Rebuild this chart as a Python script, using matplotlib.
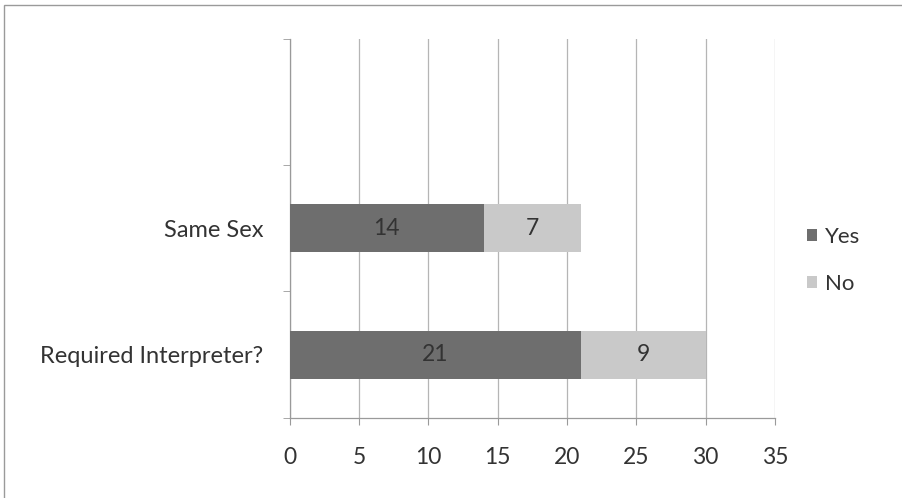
import matplotlib
matplotlib.use("Agg")
import matplotlib.pyplot as plt
from matplotlib.patches import Rectangle

# survey answers, bottom category first; top slot is left empty
categories = ["Required Interpreter?", "Same Sex", ""]
yes_vals = [21, 14, 0]
no_vals = [9, 7, 0]
x_ticks = [0, 5, 10, 15, 20, 25, 30, 35]

plt.rcParams["font.family"] = ["Lato", "DejaVu Sans"]

fig = plt.figure(figsize=(9.03, 4.98), dpi=100)
ax = fig.add_axes([0.321, 0.161, 0.537, 0.761])

# outer chart border
fig.patches.append(Rectangle((0.004, -0.05), 1.2, 1.04, transform=fig.transFigure,
                             fill=False, edgecolor="#9a9a9a", linewidth=1.0))

ypos = list(range(len(categories)))
yes_color = "#6e6e6e"
no_color = "#c9c9c9"

b1 = ax.barh(ypos, yes_vals, height=0.38, color=yes_color, label="Yes", zorder=3)
b2 = ax.barh(ypos, no_vals, left=yes_vals, height=0.38, color=no_color, label="No", zorder=3)

for bars, vals in ((b1, yes_vals), (b2, no_vals)):
    for bar, v in zip(bars, vals):
        if v:
            ax.text(bar.get_x() + bar.get_width() / 2, bar.get_y() + bar.get_height() / 2,
                    str(v), ha="center", va="center", fontsize=16.5, color="#333333", zorder=4)

ax.set_xlim(0, 35)
ax.set_ylim(-0.5, 2.5)
ax.set_xticks(x_ticks)
ax.tick_params(axis="x", length=5, color="#9a9a9a", labelsize=16.5, labelcolor="#333333", pad=16)
ax.grid(axis="x", color="#b5b5b5", linewidth=0.9, zorder=0)

ax.set_yticks(ypos[:2])
ax.set_yticklabels(categories[:2])
ax.tick_params(axis="y", length=0, labelsize=17, labelcolor="#333333", pad=19)
ax.set_yticks([-0.5, 0.5, 1.5, 2.5], minor=True)
ax.tick_params(axis="y", which="minor", length=5, color="#9a9a9a")

for s in ("top", "right"):
    ax.spines[s].set_visible(False)
for s in ("left", "bottom"):
    ax.spines[s].set_color("#9a9a9a")
    ax.spines[s].set_linewidth(0.9)

fig.legend(handles=[b1, b2], loc="center left", bbox_to_anchor=(0.872, 0.477),
           frameon=False, fontsize=16, handlelength=0.45, handleheight=0.45,
           handletextpad=0.35, labelspacing=1.2, labelcolor="#333333")

fig.savefig("out.png", dpi=100)
